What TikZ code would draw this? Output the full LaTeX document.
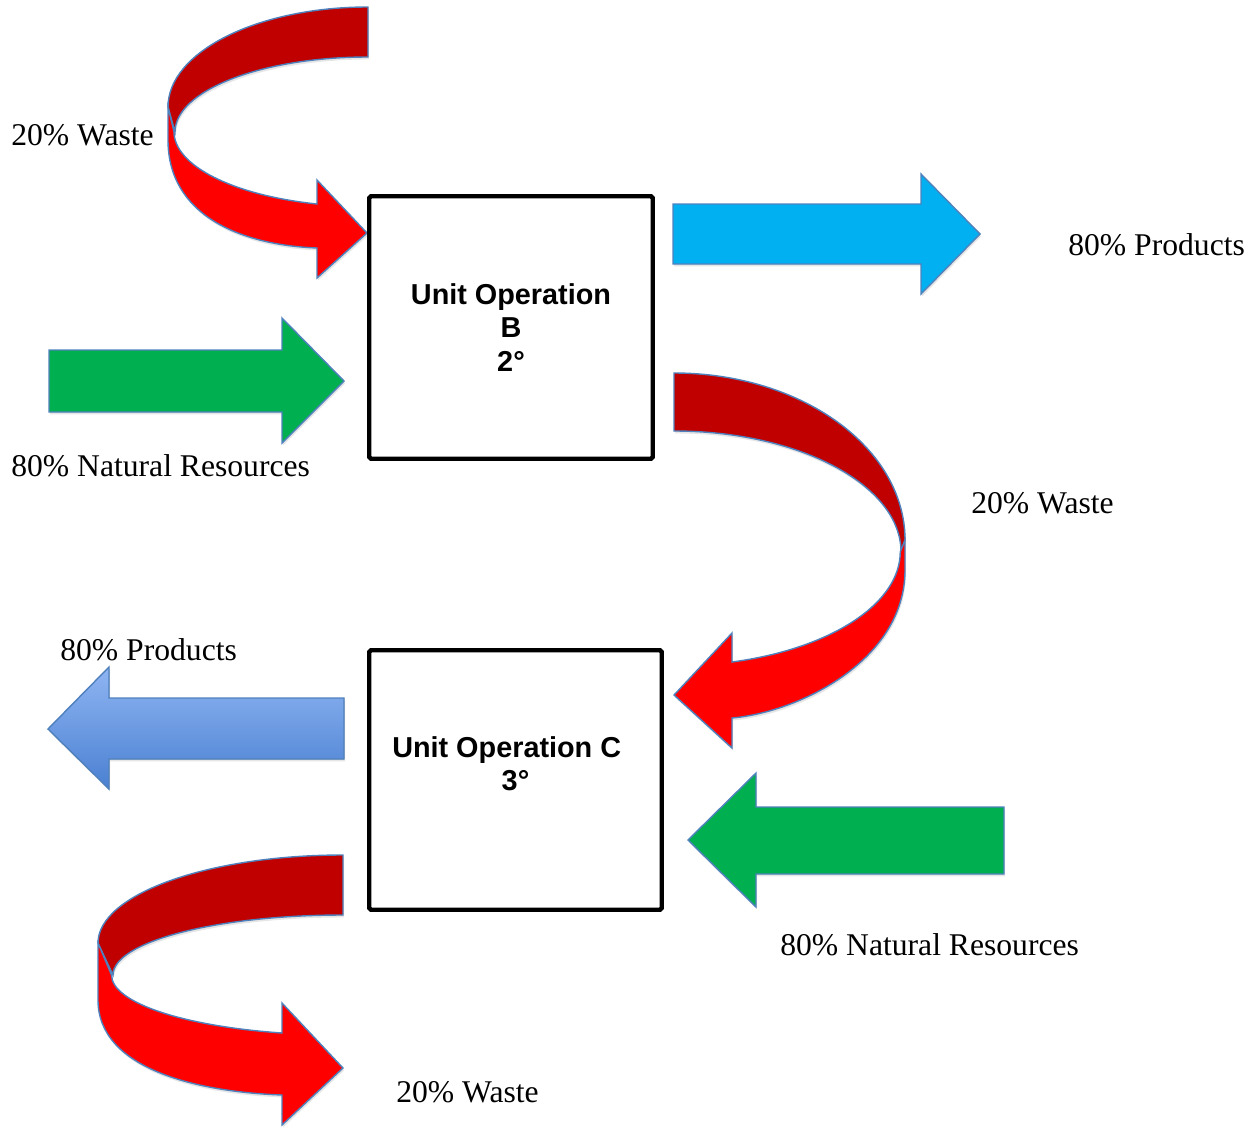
\documentclass[tikz,border=0pt]{standalone}
\usepackage{fontspec}
\setmainfont{Liberation Serif}
\setsansfont{Liberation Sans}
\usetikzlibrary{shadows}
\definecolor{rimblue}{HTML}{4F81BD}
\definecolor{wastedark}{HTML}{C00000}
\definecolor{wastered}{HTML}{FF0000}
\definecolor{resgreen}{HTML}{00B050}
\definecolor{prodcyan}{HTML}{00B0F0}
\definecolor{prodlight}{HTML}{8FB5F2}
\definecolor{proddark}{HTML}{4A80D2}

\begin{document}
\begin{tikzpicture}[x=0.02cm,y=-0.02cm,
  every node/.style={font=\fontsize{18}{22}\selectfont},
  tag/.style={anchor=base west,inner sep=0pt},
  unitbox/.style={draw,line width=2.5pt,fill=white,rounded corners=1pt,
    font=\sffamily\bfseries\fontsize{16.4}{19}\selectfont,align=center},
  flow/.style={draw=rimblue,line width=0.8pt,
    drop shadow={opacity=0.2,shadow xshift=0.6pt,shadow yshift=-1.4pt}},
  back/.style={flow,fill=wastedark},
  front/.style={flow,fill=wastered}]
  % Set the page
  \useasboundingbox (0,0) rectangle (1257,1129);

  % Waste coming in, top left
  \filldraw[back] (368,7) -- (368,57) arc[start angle=270,end angle=180,x radius=193,y radius=75]
    -- (168,107) arc[start angle=180,end angle=270,x radius=200,y radius=100] -- cycle;
  \filldraw[front] (168,107) -- (168,140) .. controls (168,215) and (240,245) .. (317,248)
    -- (317,278) -- (367,233) -- (317,180) -- (317,204)
    arc[start angle=105,end angle=180,x radius=193,y radius=75] -- cycle;

  % Straight flows
  \filldraw[flow,fill=resgreen] (49,350) -- (282,350) -- (282,318) -- (344,381)
    -- (282,443) -- (282,412) -- (49,412) -- cycle;
  \filldraw[flow,fill=prodcyan] (673,204) -- (921,204) -- (921,174) -- (980,234)
    -- (921,294) -- (921,264) -- (673,264) -- cycle;
  \filldraw[flow,top color=prodlight,bottom color=proddark] (344,698) -- (109,698) -- (109,667)
    -- (48,729) -- (109,789) -- (109,759) -- (344,759) -- cycle;
  \filldraw[flow,fill=resgreen] (1004,807) -- (756,807) -- (756,773) -- (688,840)
    -- (756,907) -- (756,874) -- (1004,874) -- cycle;

  % Waste from B to C
  \filldraw[back] (674,373) arc[start angle=270,end angle=360,x radius=231,y radius=167]
    -- (901,552) arc[start angle=0,end angle=-90,x radius=227,y radius=121] -- cycle;
  \filldraw[front] (905,540) -- (905,570) .. controls (905,660) and (800,712) .. (732,718)
    -- (732,748) -- (674,695) -- (732,633) -- (732,662)
    arc[start angle=75,end angle=0,x radius=227,y radius=114] -- cycle;

  % Waste going out, bottom left
  \filldraw[back] (343,855) -- (343,915) arc[start angle=270,end angle=180,x radius=230,y radius=60]
    -- (98,943) arc[start angle=180,end angle=270,x radius=245,y radius=88] -- cycle;
  \filldraw[front] (98,943) -- (98,1000) .. controls (98,1070) and (200,1092) .. (282,1095)
    -- (282,1125) -- (343,1068) -- (282,1003) -- (282,1033)
    arc[start angle=105,end angle=180,x radius=230,y radius=60] -- cycle;

  % Unit operations
  \node[unitbox,minimum width=5.67cm,minimum height=5.25cm] (opB) at (511,327.5)
    {Unit Operation\\B\\2°};
  \node[unitbox,minimum width=5.85cm,minimum height=5.19cm] (opC) at (515.5,780)
    {Unit Operation C\hphantom{n}\\3°\\\mbox{}};

  % Labels
  \node[tag] (wasteIn) at (11,145) {20\% Waste};
  \node[tag] (resB) at (11,476) {80\% Natural Resources};
  \node[tag] (prodB) at (1068,255) {80\% Products};
  \node[tag] (wasteB) at (971,513) {20\% Waste};
  \node[tag] (prodC) at (60,660) {80\% Products};
  \node[tag] (resC) at (780,955) {80\% Natural Resources};
  \node[tag] (wasteC) at (396,1102) {20\% Waste};
\end{tikzpicture}
\end{document}
